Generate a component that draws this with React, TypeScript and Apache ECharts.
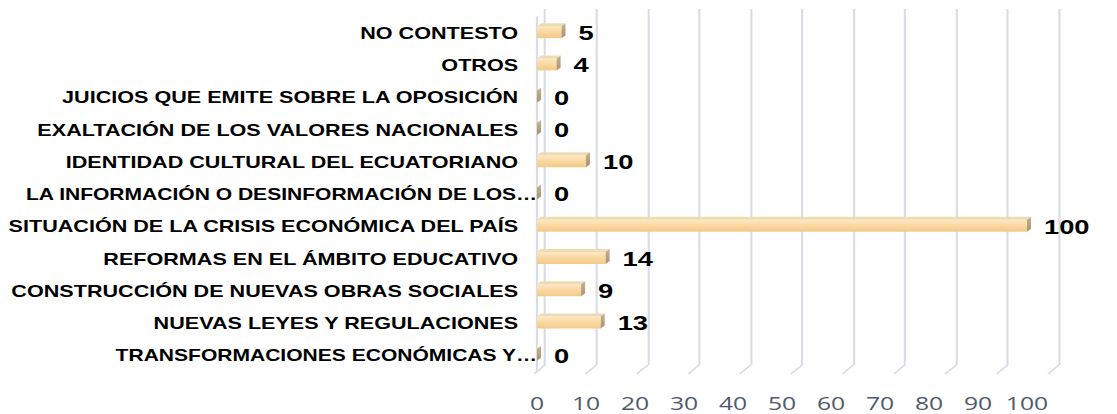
import React, { useEffect, useRef } from "react";
import * as echarts from "echarts";

// Data (bottom to top, as drawn on the category axis)
const categories = [
  "TRANSFORMACIONES ECONÓMICAS Y…",
  "NUEVAS LEYES Y REGULACIONES",
  "CONSTRUCCIÓN DE NUEVAS OBRAS SOCIALES",
  "REFORMAS EN EL ÁMBITO EDUCATIVO",
  "SITUACIÓN DE LA CRISIS ECONÓMICA DEL PAÍS",
  "LA INFORMACIÓN O DESINFORMACIÓN DE LOS…",
  "IDENTIDAD CULTURAL DEL ECUATORIANO",
  "EXALTACIÓN DE LOS VALORES NACIONALES",
  "JUICIOS QUE EMITE SOBRE LA OPOSICIÓN",
  "OTROS",
  "NO CONTESTO",
];
const values = [0, 13, 9, 14, 100, 0, 10, 0, 0, 4, 5];
const axisMin = 0;
const axisMax = 100;
const axisInterval = 10;
const gridTicks = [0, 10, 20, 30, 40, 50, 60, 70, 80, 90, 100];

const W = 1117;
const H = 414;
const STRETCH = 1.3;
const IW = W / STRETCH;
const sx = (x: number) => x / STRETCH;

const GRID_COLOR = "#d9dce8";

export default function App() {
  const ref = useRef<HTMLDivElement>(null);

  useEffect(() => {
    if (!ref.current) return;
    const chart = echarts.init(ref.current, null, { renderer: "svg" });

    const frontGrad = new echarts.graphic.LinearGradient(0, 0, 0, 1, [
      { offset: 0, color: "#fde8c2" },
      { offset: 0.45, color: "#fad9a3" },
      { offset: 1, color: "#f2c98a" },
    ]);
    const sideGrad = new echarts.graphic.LinearGradient(0, 0, 0, 1, [
      { offset: 0, color: "#c9b38e" },
      { offset: 1, color: "#a8916c" },
    ]);

    const dx = sx(4);
    const dy = 3;

    const option: any = {
      animation: false,
      backgroundColor: "#ffffff",
      grid: [
        {
          left: sx(537),
          width: sx(1027) - sx(537),
          top: 17,
          height: 355,
          containLabel: false,
          outerBoundsMode: "none",
        },
        {
          left: sx(545),
          width: sx(1059) - sx(545),
          top: 9,
          height: 356,
          containLabel: false,
          outerBoundsMode: "none",
        },
      ],
      xAxis: [
        {
          gridIndex: 0,
          type: "value",
          min: axisMin,
          max: axisMax,
          interval: axisInterval,
          axisLine: { show: false },
          axisTick: { show: false },
          splitLine: { show: false },
          axisLabel: {
            margin: 21,
            color: "#505a6a",
            fontFamily: "Open Sans",
            fontSize: 19,
            lineHeight: 19,
          },
        },
        {
          gridIndex: 1,
          type: "value",
          min: axisMin,
          max: axisMax,
          interval: axisInterval,
          axisLine: { show: false },
          axisTick: { show: false },
          axisLabel: { show: false },
          splitLine: { show: true, lineStyle: { color: GRID_COLOR, width: 1.6 } },
        },
      ],
      yAxis: [
        {
          gridIndex: 0,
          type: "category",
          data: categories,
          offset: 3,
          axisTick: { show: false },
          axisLine: { show: true, lineStyle: { color: GRID_COLOR, width: 1.6 } },
          splitLine: { show: false },
          axisLabel: {
            margin: sx(533) - sx(518),
            color: "#000000",
            fontFamily: "Liberation Sans, Arial, sans-serif",
            fontWeight: "bold",
            fontSize: 16.6,
            formatter: (val: string) =>
              val.endsWith("…") ? `{t|${val}}` : val,
            rich: {
              t: {
                color: "#000000",
                fontFamily: "Liberation Sans, Arial, sans-serif",
                fontWeight: "bold",
                fontSize: 16.2,
                padding: [0, -sx(19), 0, 0],
              },
            },
          },
        },
        {
          gridIndex: 1,
          type: "value",
          min: 0,
          max: 1,
          show: false,
        },
      ],
      series: [
        {
          type: "custom",
          xAxisIndex: 1,
          yAxisIndex: 1,
          silent: true,
          data: gridTicks.map((t) => [t, 0]),
          renderItem: (_p: any, api: any) => {
            const pt = api.coord([api.value(0), 0]);
            return {
              type: "line",
              shape: { x1: pt[0], y1: pt[1], x2: pt[0] - sx(11), y2: pt[1] + 9 },
              style: { stroke: GRID_COLOR, lineWidth: 1.6 },
            };
          },
        },
        {
          type: "custom",
          xAxisIndex: 0,
          yAxisIndex: 0,
          silent: true,
          encode: { x: 0, y: 1 },
          data: values.map((v, i) => [v, i]),
          renderItem: (_p: any, api: any) => {
            const v = api.value(0);
            const idx = api.value(1);
            const s = api.coord([0, idx]);
            const e = api.coord([v, idx]);
            const c = s[1];
            const x0 = s[0];
            const x1 = e[0];
            const top = c - 7;
            const bot = c + 5;
            return {
              type: "group",
              children: [
                {
                  type: "rect",
                  shape: { x: x0, y: top, width: x1 - x0, height: bot - top },
                  style: { fill: frontGrad },
                },
                {
                  type: "polygon",
                  shape: {
                    points: [
                      [x0, top],
                      [x0 + dx, top - dy],
                      [x1 + dx, top - dy],
                      [x1, top],
                    ],
                  },
                  style: { fill: "#eedbb5" },
                },
                {
                  type: "polygon",
                  shape: {
                    points: [
                      [x1, top],
                      [x1 + dx, top - dy],
                      [x1 + dx, bot - dy],
                      [x1, bot],
                    ],
                  },
                  style: { fill: sideGrad },
                },
                {
                  type: "text",
                  style: {
                    text: String(v),
                    x: x1 + sx(17),
                    y: c - 0.5,
                    align: "left",
                    verticalAlign: "middle",
                    fill: "#000000",
                    font: 'bold 21px "Liberation Sans", Arial, sans-serif',
                  },
                },
              ],
            };
          },
        },
      ],
    };

    chart.setOption(option);
    return () => chart.dispose();
  }, []);

  return (
    <div
      style={{
        position: "absolute",
        left: 0,
        top: 0,
        width: W,
        height: H,
        overflow: "hidden",
        background: "#fff",
      }}
    >
      <div
        ref={ref}
        style={{
          width: IW,
          height: H,
          transform: `scaleX(${STRETCH})`,
          transformOrigin: "0 0",
        }}
      />
    </div>
  );
}
